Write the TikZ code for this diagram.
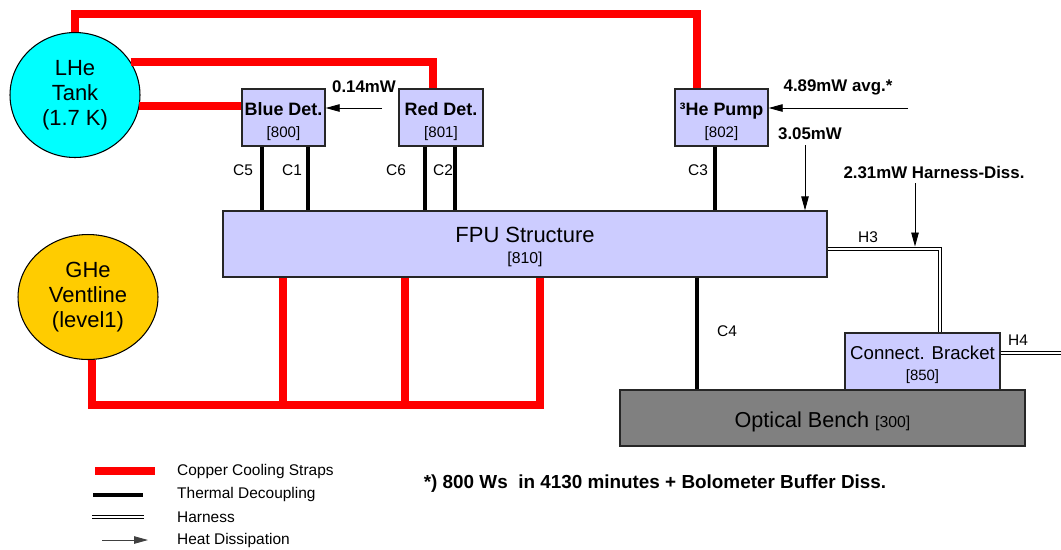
\documentclass[tikz,border=0pt]{standalone}
\usepackage{fontspec}
\setmainfont{Liberation Sans}
\usetikzlibrary{arrows.meta,positioning,calc,shapes.geometric}
\definecolor{lhecyan}{RGB}{0,255,255}
\definecolor{hegold}{RGB}{255,204,0}
\definecolor{boxblue}{RGB}{204,204,255}
\definecolor{benchgray}{RGB}{128,128,128}

\begin{document}
\begin{tikzpicture}[x=0.02cm,y=-0.02cm,
    strap/.style={red,line width=4.5pt},
    decoup/.style={black,line width=2.6pt},
    harness/.style={double,double distance=1.4pt,line width=0.5pt},
    heat/.style={-{Triangle[length=2.8mm,width=1.5mm]},line width=0.5pt},
    box/.style={draw=black!85,line width=0.8pt,fill=boxblue,inner sep=0pt,align=center},
    tank/.style={ellipse,draw,line width=0.6pt,inner sep=0pt,align=center,font=\fontsize{12.5}{14.2}\selectfont},
    lbl/.style={font=\fontsize{8.8}{10}\selectfont},
    pwr/.style={font=\fontsize{9.6}{11}\selectfont\bfseries}]

    \useasboundingbox (0,0) rectangle (1061,549);

    \node[tank,fill=lhecyan,minimum width=2.6cm,minimum height=2.5cm] (lhe) at (75,95) {LHe\\Tank\\(1.7 K)};
    \node[tank,fill=hegold,minimum width=2.8cm,minimum height=2.5cm] (ghe) at (88,297) {GHe\\Ventline\\(level1)};

    \node[box,minimum width=1.66cm,minimum height=1.14cm] (bluedet) at (283.5,117.5)
        {\fontsize{10.2}{11}\selectfont\bfseries\rule{0pt}{11.5pt}Blue Det.\\[0.5pt]\fontsize{8.6}{9}\selectfont [800]};
    \node[box,minimum width=1.68cm,minimum height=1.14cm] (reddet) at (441,117.5)
        {\fontsize{10.2}{11}\selectfont\bfseries\rule{0pt}{11.5pt}Red Det.\\[0.5pt]\fontsize{8.6}{9}\selectfont [801]};
    \node[box,minimum width=1.86cm,minimum height=1.14cm] (pump) at (721.5,117.5)
        {\fontsize{10.2}{11}\selectfont\bfseries\rule{0pt}{11.5pt}³He Pump\\[0.5pt]\fontsize{8.6}{9}\selectfont [802]};
    \node[box,minimum width=12.08cm,minimum height=1.32cm] (fpu) at (525,244)
        {\fontsize{12.5}{13}\selectfont\rule{0pt}{12.5pt}FPU Structure\\[0pt]\fontsize{9}{9}\selectfont [810]};
    \node[box,fill=benchgray,minimum width=8.1cm,minimum height=1.12cm] (bench) at (822.5,418)
        {\raisebox{-5.5pt}[0pt][0pt]{\fontsize{12.3}{13}\selectfont Optical Bench {\fontsize{9}{9}\selectfont[300]}}};
    \node[box,minimum width=3.1cm,minimum height=1.14cm] (bracket) at (922.5,361.5)
        {\fontsize{10.6}{11}\selectfont\rule{0pt}{11pt}Connect. Bracket\\[0pt]\fontsize{8.5}{9}\selectfont [850]};

    \draw[strap] (lhe.north) |- (697,14) -- (pump.north -| 697,0);
    \draw[strap] (lhe.31) -| (reddet.north -| 433,0);
    \draw[strap] (lhe.-10.6) -- (lhe.-10.6 -| bluedet.west);
    \coordinate (busend) at (540,405);
    \draw[strap] (ghe.-86) |- (busend) -- (fpu.south -| busend);
    \foreach \x in {283,405}
        \draw[strap] (fpu.south -| \x,0) -- (\x,405);

    \foreach \x in {262,308}
        \draw[decoup] (bluedet.south -| \x,0) -- (fpu.north -| \x,0);
    \foreach \x in {425,455}
        \draw[decoup] (reddet.south -| \x,0) -- (fpu.north -| \x,0);
    \draw[decoup] (pump.south -| 715,0) -- (fpu.north -| 715,0);
    \draw[decoup] (fpu.south -| 697,0) -- (bench.north -| 697,0);

    \node[lbl] (c5) at (243,170) {C5};
    \node[lbl] (c1) at (292,170) {C1};
    \node[lbl] (c6) at (396,170) {C6};
    \node[lbl] (c2) at (443,170) {C2};
    \node[lbl] (c3) at (698,170) {C3};
    \node[lbl] (c4) at (727,331) {C4};

    \coordinate (hout) at (1061,353);
    \draw[harness] (fpu.east |- 0,249) -| (bracket.north -| 940,0);
    \draw[harness] (bracket.east |- hout) -- (hout);
    \node[lbl] (h3) at (868,237) {H3};
    \node[lbl] (h4) at (1018,340) {H4};

    \coordinate (q1) at (382,108);
    \draw[heat] (q1) -- (q1 -| bluedet.east);
    \node[pwr] (p1) at (364,87) {0.14mW};
    \coordinate (q2) at (908,108);
    \draw[heat] (q2) -- (q2 -| pump.east);
    \node[pwr] (p2) at (838,87) {4.89mW avg.*};
    \node[pwr] (p3) at (810,134) {3.05mW};
    \coordinate (q3) at (805,145);
    \draw[heat] (q3) -- (fpu.north -| q3);
    \node[pwr] (p4) at (934,172) {2.31mW Harness-Diss.};
    \coordinate (q4) at (915,183);
    \draw[heat] (q4) -- (915,246.5);

    \node[font=\fontsize{10.75}{12}\selectfont\bfseries] (note) at (655,484)
        {*) 800 Ws\ \ in 4130 minutes + Bolometer Buffer Diss.};

    \draw[strap] (95,471) -- (155,471);
    \draw[decoup] (93,495) -- (143,495);
    \draw[harness] (92,517) -- (144,517);
    \draw[heat,black!75] (102,540) -- (148,540);
    \node[lbl,anchor=west] (k1) at (171,471) {Copper Cooling Straps};
    \node[lbl,anchor=west] (k2) at (171,494) {Thermal Decoupling};
    \node[lbl,anchor=west] (k3) at (171,517) {Harness};
    \node[lbl,anchor=west] (k4) at (171,540) {Heat Dissipation};
\end{tikzpicture}
\end{document}
